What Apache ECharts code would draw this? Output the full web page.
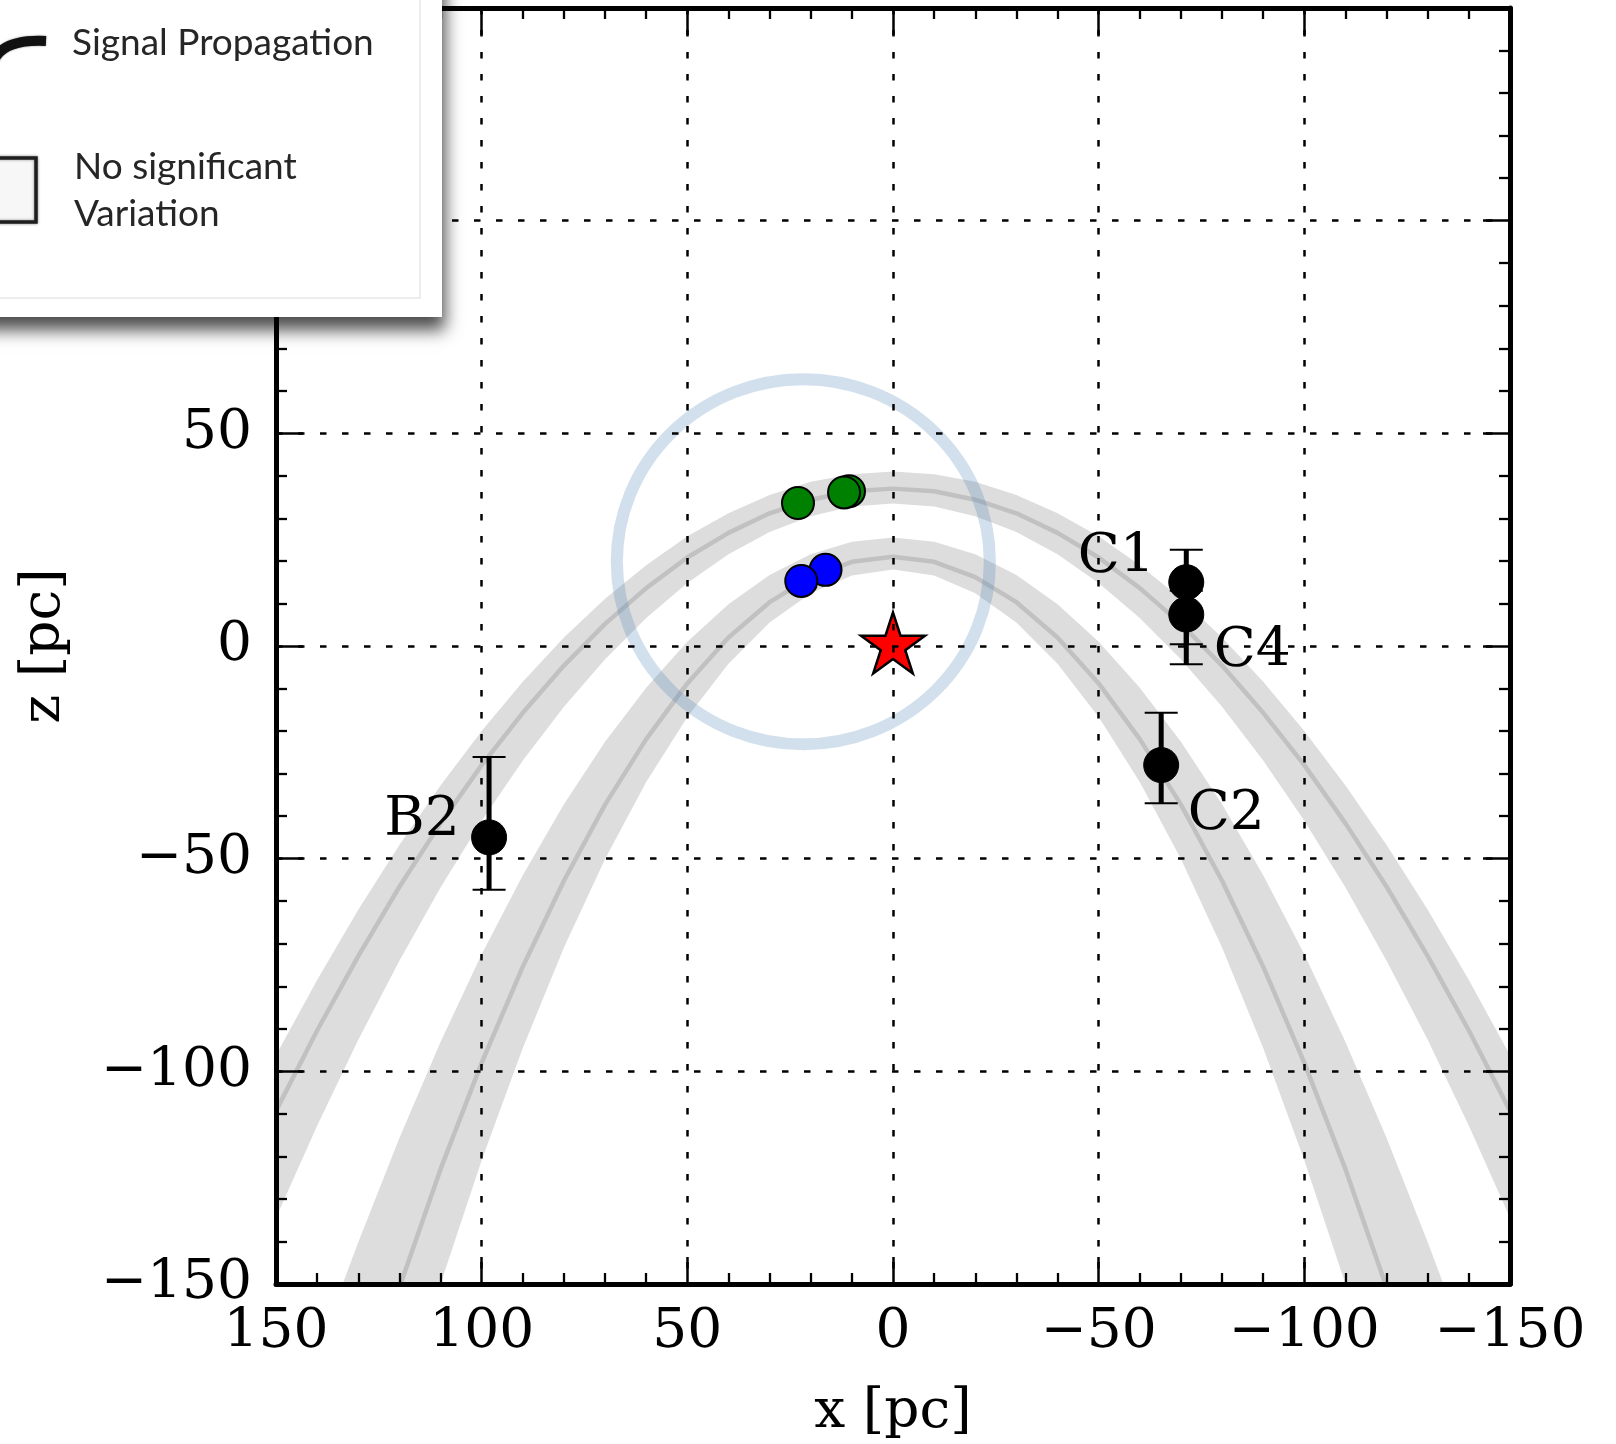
<!DOCTYPE html>
<html>
<head>
<meta charset="utf-8">
<script src="https://cdn.jsdelivr.net/npm/echarts@6/dist/echarts.min.js"></script>
<style>
  html, body { margin: 0; padding: 0; background: #fff; }
  #chart { width: 1616px; height: 1444px; }
</style>
</head>
<body>
<div id="chart"></div>
<script>
// ---- data (pc) ----
const xTicks = [-150, -100, -50, 0, 50, 100, 150];

// outer echo band: sample positions along x and the band edges / centre line
const bandX = [-150,-140,-130,-120,-110,-100,-90,-80,-70,-60,-50,-40,-30,-20,-10,0,10,20,30,40,50,60,70,80,90,100,110,120,130,140,150];
const outerBandUpper = [-96.2,-78.5,-62.0,-46.8,-32.8,-20.0,-8.4,2.0,11.1,19.0,25.8,31.2,35.5,38.6,40.4,41.0,40.4,38.6,35.5,31.2,25.8,19.0,11.1,2.0,-8.4,-20.0,-32.8,-46.8,-62.0,-78.5,-96.2];
const outerBandLower = [-134.4,-112.8,-92.6,-74.0,-56.8,-41.1,-26.9,-14.3,-3.1,6.6,14.8,21.6,26.8,30.5,32.8,33.5,32.8,30.5,26.8,21.6,14.8,6.6,-3.1,-14.3,-26.9,-41.1,-56.8,-74.0,-92.6,-112.8,-134.4];
const outerCentre = [-109.3,-90.4,-72.9,-56.6,-41.7,-28.0,-15.7,-4.6,5.2,13.6,20.8,26.6,31.2,34.4,36.4,37.0,36.4,34.4,31.2,26.6,20.8,13.6,5.2,-4.6,-15.7,-28.0,-41.7,-56.6,-72.9,-90.4,-109.3];

// inner echo band as [x, z] pairs (edges leave through the bottom of the frame)
const innerBandUpper = [[-133.8,-150],[-130,-140.2],[-120,-115.7],[-110,-93.1],[-100,-72.5],[-90,-53.9],[-80,-37.2],[-70,-22.5],[-60,-9.8],[-50,1.0],[-40,9.8],[-30,16.7],[-20,21.6],[-10,24.5],[0,25.5],[10,24.5],[20,21.6],[30,16.7],[40,9.8],[50,1.0],[60,-9.8],[70,-22.5],[80,-37.2],[90,-53.9],[100,-72.5],[110,-93.1],[120,-115.7],[130,-140.2],[133.8,-150]];
const innerBandLower = [[-110,-150],[-100,-120.9],[-90,-94.5],[-80,-70.9],[-70,-50.1],[-60,-32.0],[-50,-16.7],[-40,-4.2],[-30,5.5],[-20,12.4],[-10,16.6],[0,18.0],[10,16.6],[20,12.4],[30,5.5],[40,-4.2],[50,-16.7],[60,-32.0],[70,-50.1],[80,-70.9],[90,-94.5],[100,-120.9],[110,-150]];
const innerCentre = [[-119.7,-150],[-110,-123.0],[-100,-98.0],[-90,-75.4],[-80,-55.2],[-70,-37.3],[-60,-21.9],[-50,-8.8],[-40,2.0],[-30,10.3],[-20,16.2],[-10,19.8],[0,21.0],[10,19.8],[20,16.2],[30,10.3],[40,2.0],[50,-8.8],[60,-21.9],[70,-37.3],[80,-55.2],[90,-75.4],[100,-98.0],[110,-123.0],[119.7,-150]];

// named clouds with distance uncertainties
const cloudNames = ['B2', 'C1', 'C4', 'C2'];
const cloudX = [98.2, -71.3, -71.3, -65.2];
const cloudZ = [-45.0, 15.0, 7.4, -28.0];
const cloudZLow = [-57.3, 0.4, -4.3, -37.0];
const cloudZHigh = [-26.1, 22.6, 13.0, -15.7];

// sources near the star
const greenX = [10.7, 11.9, 23.1];
const greenZ = [36.4, 36.1, 33.6];
const blueX = [16.4, 22.3];
const blueZ = [17.9, 15.3];
const starX = [0];
const starZ = [0];
const regionCentre = [21.8, 19.8];

// ---- styling ----
const SERIF = 'DejaVu Serif';
const FS = 55;
const labelOffsets = { B2: [-67, -17], C1: [-70, -24], C4: [66, 37], C2: [65, 50] };
const minusFmt = v => (v < 0 ? '\u2212' + Math.abs(v) : String(v));
const gridDash = [6.5, 15.5];

const pairs = (xs, zs) => xs.map((x, i) => [x, zs[i]]);
const bands = [
  { upper: pairs(bandX, outerBandUpper), lower: pairs(bandX, outerBandLower) },
  { upper: innerBandUpper, lower: innerBandLower }
];

function axisBase(extra) {
  return Object.assign({
    type: 'value', min: -150, max: 150, interval: 50, z: 20,
    axisLine: { show: true, onZero: false, lineStyle: { color: '#000', width: 5 } },
    axisTick: { show: true, inside: true, length: 27, lineStyle: { color: '#000', width: 2.5 } },
    minorTick: { show: true, splitNumber: 5, length: 11, lineStyle: { color: '#000', width: 2.3 } },
    splitLine: { show: false },
    axisLabel: { show: false }
  }, extra);
}

const chart = echarts.init(document.getElementById('chart'), null, { renderer: 'canvas' });
const symbolStar = 'path://M0,-100L22.45,-30.9L95.1,-30.9L36.33,11.8L58.8,80.9L0,38.2L-58.8,80.9L-36.33,11.8L-95.1,-30.9L-22.45,-30.9Z';

chart.setOption({
  animation: false,
  backgroundColor: '#fff',
  grid: { left: 276, right: 106, top: 8, bottom: 160, containLabel: false, outerBoundsMode: 'none' },
  xAxis: [
    axisBase({
      position: 'bottom', inverse: true,
      name: 'x [pc]', nameLocation: 'middle', nameGap: 101,
      nameTextStyle: { fontFamily: SERIF, fontSize: FS, color: '#000' },
      axisLabel: { show: true, margin: 21, fontFamily: SERIF, fontSize: FS, color: '#000', formatter: minusFmt },
      splitLine: { show: true, lineStyle: { color: '#000', width: 2.5, type: gridDash } }
    }),
    axisBase({ position: 'top', inverse: true })
  ],
  yAxis: [
    axisBase({
      position: 'left',
      name: 'z [pc]', nameLocation: 'middle', nameGap: 204, nameRotate: 90,
      nameTextStyle: { fontFamily: SERIF, fontSize: FS, color: '#000' },
      axisLabel: { show: true, margin: 24, fontFamily: SERIF, fontSize: FS, color: '#000', formatter: minusFmt },
      splitLine: { show: true, lineStyle: { color: '#000', width: 2.5, type: gridDash } }
    }),
    axisBase({ position: 'right' })
  ],
  series: [
    {
      // shaded uncertainty bands of the two echo surfaces
      type: 'custom', xAxisIndex: 0, yAxisIndex: 0, z: 1,
      data: [[0, 0], [1, 0]],
      renderItem: (params, api) => {
        const b = bands[params.dataIndex];
        const pts = b.upper.map(p => api.coord(p))
          .concat(b.lower.slice().reverse().map(p => api.coord(p)));
        return { type: 'polygon', shape: { points: pts }, style: { fill: '#dddddd' } };
      },
      silent: true
    },
    {
      type: 'line', z: 2, data: pairs(bandX, outerCentre), showSymbol: false, symbol: 'none',
      lineStyle: { color: '#c1c1c1', width: 4.5 }, silent: true
    },
    {
      type: 'line', z: 2, data: innerCentre, showSymbol: false, symbol: 'none',
      lineStyle: { color: '#c1c1c1', width: 4.5 }, silent: true
    },
    {
      // highlighted region around the star
      type: 'scatter', z: 3, data: [regionCentre], symbol: 'circle', symbolSize: [373, 365],
      itemStyle: { color: 'rgba(0,0,0,0)', borderColor: 'rgba(70,130,180,0.25)', borderWidth: 12, opacity: 1 },
      silent: true
    },
    {
      // error bars of the named clouds
      type: 'custom', z: 4,
      data: cloudX.map((x, i) => [x, cloudZ[i], cloudZLow[i], cloudZHigh[i]]),
      encode: { x: 0, y: 1 },
      renderItem: (params, api) => {
        const x = api.value(0);
        const lo = api.coord([x, api.value(2)]);
        const hi = api.coord([x, api.value(3)]);
        const cap = 16.5;
        return {
          type: 'group', children: [
            { type: 'line', shape: { x1: lo[0], y1: lo[1], x2: hi[0], y2: hi[1] }, style: { stroke: '#000', lineWidth: 5 } },
            { type: 'line', shape: { x1: lo[0] - cap, y1: lo[1], x2: lo[0] + cap, y2: lo[1] }, style: { stroke: '#000', lineWidth: 2 } },
            { type: 'line', shape: { x1: hi[0] - cap, y1: hi[1], x2: hi[0] + cap, y2: hi[1] }, style: { stroke: '#000', lineWidth: 2 } }
          ]
        };
      },
      silent: true
    },
    {
      type: 'scatter', z: 5, symbol: 'circle', symbolSize: 35,
      itemStyle: { color: '#000', borderColor: '#000', borderWidth: 1, opacity: 1 },
      data: cloudNames.map((n, i) => ({
        name: n, value: [cloudX[i], cloudZ[i]],
        label: { offset: labelOffsets[n] }
      })),
      label: {
        show: true, position: 'inside', formatter: '{b}',
        fontFamily: SERIF, fontSize: FS, color: '#000', textBorderWidth: 0, opacity: 1
      },
      silent: true
    },
    {
      type: 'scatter', z: 6, symbol: 'circle', symbolSize: 32,
      itemStyle: { color: '#008000', borderColor: '#000', borderWidth: 2, opacity: 1 },
      data: pairs(greenX, greenZ), silent: true
    },
    {
      type: 'scatter', z: 6, symbol: 'circle', symbolSize: 32,
      itemStyle: { color: '#0000ff', borderColor: '#000', borderWidth: 2, opacity: 1 },
      data: pairs(blueX, blueZ), silent: true
    },
    {
      type: 'scatter', z: 7, symbol: symbolStar, symbolSize: [64, 61], symbolOffset: [0, -3],
      itemStyle: { color: '#ff0000', borderColor: '#000', borderWidth: 2.5, opacity: 1 },
      data: pairs(starX, starZ), silent: true
    }
  ],
  graphic: [
    {
      type: 'rect', z: 100, silent: true,
      shape: { x: -30, y: -30, width: 472, height: 347 },
      style: { fill: '#fff', shadowBlur: 16, shadowColor: 'rgba(0,0,0,0.7)', shadowOffsetX: 3, shadowOffsetY: 13 }
    },
    {
      type: 'rect', z: 101, silent: true,
      shape: { x: -30, y: -30, width: 450, height: 328 },
      style: { fill: 'none', stroke: '#e6e6e6', lineWidth: 1.5 }
    },
    {
      type: 'bezierCurve', z: 102, silent: true,
      shape: { x1: -6, y1: 60, cpx1: 4, cpy1: 39, x2: 46, y2: 41 },
      style: { stroke: '#111', lineWidth: 10, fill: 'none', shadowBlur: 2, shadowColor: 'rgba(0,0,0,0.5)' }
    },
    {
      type: 'rect', z: 102, silent: true,
      shape: { x: -25, y: 158, width: 61, height: 64 },
      style: { fill: '#f7f7f7', stroke: '#1e1e1e', lineWidth: 3.5, shadowBlur: 3, shadowColor: 'rgba(0,0,0,0.45)' }
    },
    {
      type: 'text', z: 102, silent: true, left: 72, top: 25,
      style: { text: 'Signal Propagation', font: '37px Lato', fill: '#262626', shadowBlur: 1.5, shadowColor: 'rgba(0,0,0,0.45)' }
    },
    {
      type: 'text', z: 102, silent: true, left: 74, top: 144,
      style: { text: 'No significant\nVariation', font: '37px Lato', lineHeight: 47, fill: '#262626', shadowBlur: 1.5, shadowColor: 'rgba(0,0,0,0.45)' }
    }
  ]
});
</script>
</body>
</html>
